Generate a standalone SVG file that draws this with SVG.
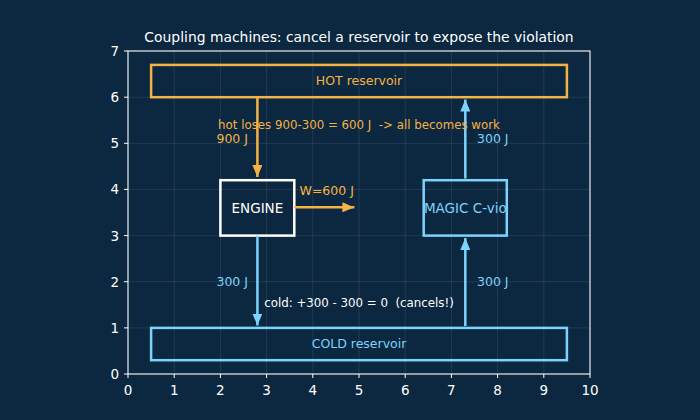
<svg xmlns="http://www.w3.org/2000/svg" width="700" height="420" viewBox="0 0 700 420">
<defs>
<style>
text{font-family:"DejaVu Sans","Liberation Sans",sans-serif;white-space:pre;}
.grid line{stroke:#ffffff;stroke-opacity:0.12;stroke-width:0.8;}
.tick{stroke:#ffffff;stroke-width:1;}
.tl{fill:#ffffff;font-size:13.5px;}
.or{stroke:#f5b245;fill:none;stroke-width:2.5;}
.bl{stroke:#7dd3fc;fill:none;stroke-width:2.5;}
.ot{fill:#f5b245;font-size:12.5px;}
.bt{fill:#7dd3fc;font-size:12.5px;}
.sm{font-size:11.8px;}
</style>
<marker id="ao" viewBox="0 0 12 10" refX="12" refY="5" markerWidth="12" markerHeight="10" markerUnits="userSpaceOnUse" orient="auto"><path d="M0,0 L12,5 L0,10 Z" fill="#f5b245"/></marker>
<marker id="ab" viewBox="0 0 12 10" refX="12" refY="5" markerWidth="12" markerHeight="10" markerUnits="userSpaceOnUse" orient="auto"><path d="M0,0 L12,5 L0,10 Z" fill="#7dd3fc"/></marker>
<clipPath id="mc"><rect x="423.7" y="180.2" width="83.1" height="55.4"/></clipPath>
</defs>
<rect width="700" height="420" fill="#0c2740"/>
<text x="359" y="42" text-anchor="middle" fill="#ffffff" font-size="13.9">Coupling machines: cancel a reservoir to expose the violation</text>
<g class="grid">
<line x1="174.2" y1="51" x2="174.2" y2="374"/><line x1="220.4" y1="51" x2="220.4" y2="374"/><line x1="266.6" y1="51" x2="266.6" y2="374"/><line x1="312.8" y1="51" x2="312.8" y2="374"/><line x1="359" y1="51" x2="359" y2="374"/><line x1="405.2" y1="51" x2="405.2" y2="374"/><line x1="451.4" y1="51" x2="451.4" y2="374"/><line x1="497.6" y1="51" x2="497.6" y2="374"/><line x1="543.8" y1="51" x2="543.8" y2="374"/>
<line x1="128" y1="327.9" x2="590" y2="327.9"/><line x1="128" y1="281.7" x2="590" y2="281.7"/><line x1="128" y1="235.6" x2="590" y2="235.6"/><line x1="128" y1="189.4" x2="590" y2="189.4"/><line x1="128" y1="143.3" x2="590" y2="143.3"/><line x1="128" y1="97.2" x2="590" y2="97.2"/>
</g>
<g id="axes">
<rect x="128" y="51" width="462" height="323" fill="none" stroke="#ffffff" stroke-width="1.1"/>
<g class="tick">
<line x1="128" y1="374" x2="128" y2="378"/><line x1="174.2" y1="374" x2="174.2" y2="378"/><line x1="220.4" y1="374" x2="220.4" y2="378"/><line x1="266.6" y1="374" x2="266.6" y2="378"/><line x1="312.8" y1="374" x2="312.8" y2="378"/><line x1="359" y1="374" x2="359" y2="378"/><line x1="405.2" y1="374" x2="405.2" y2="378"/><line x1="451.4" y1="374" x2="451.4" y2="378"/><line x1="497.6" y1="374" x2="497.6" y2="378"/><line x1="543.8" y1="374" x2="543.8" y2="378"/><line x1="590" y1="374" x2="590" y2="378"/>
<line x1="124" y1="374" x2="128" y2="374"/><line x1="124" y1="327.9" x2="128" y2="327.9"/><line x1="124" y1="281.7" x2="128" y2="281.7"/><line x1="124" y1="235.6" x2="128" y2="235.6"/><line x1="124" y1="189.4" x2="128" y2="189.4"/><line x1="124" y1="143.3" x2="128" y2="143.3"/><line x1="124" y1="97.2" x2="128" y2="97.2"/><line x1="124" y1="51" x2="128" y2="51"/>
</g>
<g class="tl" text-anchor="middle">
<text x="128" y="395">0</text><text x="174.2" y="395">1</text><text x="220.4" y="395">2</text><text x="266.6" y="395">3</text><text x="312.8" y="395">4</text><text x="359" y="395">5</text><text x="405.2" y="395">6</text><text x="451.4" y="395">7</text><text x="497.6" y="395">8</text><text x="543.8" y="395">9</text><text x="590" y="395">10</text>
</g>
<g class="tl" text-anchor="end">
<text x="119" y="379">0</text><text x="119" y="332.9">1</text><text x="119" y="286.7">2</text><text x="119" y="240.6">3</text><text x="119" y="194.4">4</text><text x="119" y="148.3">5</text><text x="119" y="102.2">6</text><text x="119" y="56">7</text>
</g>
</g>
<g id="hot">
<rect x="151.1" y="64.9" width="415.8" height="32.3" class="or"/>
<text x="359" y="84.5" text-anchor="middle" class="ot">HOT reservoir</text>
</g>
<g id="cold">
<rect x="151.1" y="327.9" width="415.8" height="32.3" class="bl"/>
<text x="359" y="347.5" text-anchor="middle" class="bt">COLD reservoir</text>
</g>
<g id="engine">
<rect x="220.4" y="180.2" width="73.9" height="55.4" fill="none" stroke="#ffffff" stroke-width="2.5"/>
<text x="257.4" y="212.5" text-anchor="middle" fill="#ffffff" font-size="13.5">ENGINE</text>
</g>
<g id="magic">
<rect x="423.7" y="180.2" width="83.1" height="55.4" class="bl"/>
<text x="465.3" y="212.5" text-anchor="middle" fill="#7dd3fc" font-size="13.5" clip-path="url(#mc)">MAGIC C-vio</text>
</g>
<g id="connectors">
<line x1="257.4" y1="97.2" x2="257.4" y2="177" class="or" marker-end="url(#ao)"/>
<line x1="294.3" y1="207.3" x2="354.4" y2="207.3" class="or" marker-end="url(#ao)"/>
<line x1="257.4" y1="235.6" x2="257.4" y2="325.5" class="bl" marker-end="url(#ab)"/>
<line x1="465.3" y1="326" x2="465.3" y2="238" class="bl" marker-end="url(#ab)"/>
<line x1="465.3" y1="178.5" x2="465.3" y2="99.5" class="bl" marker-end="url(#ab)"/>
</g>
<g id="labels">
<text x="359" y="129" text-anchor="middle" class="ot sm">hot loses 900-300 = 600 J  -&gt; all becomes work</text>
<text x="248" y="142.5" text-anchor="end" class="ot">900 J</text>
<text x="326.7" y="194.5" text-anchor="middle" class="ot">W=600 J</text>
<text x="248" y="286" text-anchor="end" class="bt">300 J</text>
<text x="477" y="142.5" class="bt">300 J</text>
<text x="477" y="286" class="bt">300 J</text>
<text x="359" y="306.5" text-anchor="middle" fill="#ffffff" class="sm">cold: +300 - 300 = 0  (cancels!)</text>
</g>
</svg>
